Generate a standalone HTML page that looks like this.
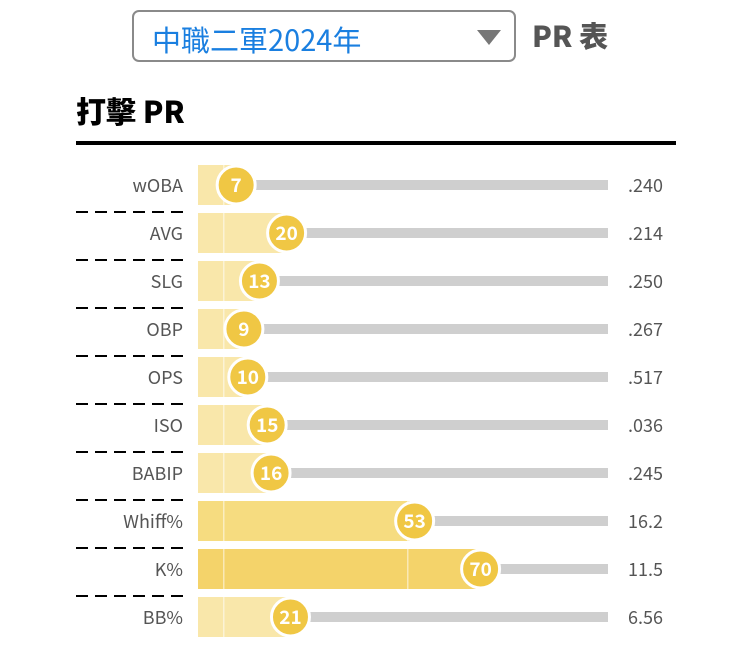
<!DOCTYPE html>
<html><head><meta charset="utf-8">
<style>
body{margin:0;width:750px;height:668px;background:#fff;overflow:hidden;font-family:"Liberation Sans","Noto Sans CJK TC",sans-serif;position:relative}
.sel{position:absolute;left:132px;top:10px;width:380px;height:48px;border:2px solid #8a8a8a;border-radius:7px;box-sizing:content-box}
.sel span{position:absolute;left:18px;top:6px;font-size:29px;color:#1a7fe0;font-family:"Noto Sans CJK TC",sans-serif}
.tri{position:absolute;left:343px;top:18px;width:0;height:0;border-left:12px solid transparent;border-right:12px solid transparent;border-top:15px solid #777}
.pr{position:absolute;left:532px;top:14px;font-size:29px;font-weight:900;color:#555;font-family:"Noto Sans CJK TC",sans-serif}
.title{position:absolute;left:76px;top:88px;font-size:30px;font-weight:900;color:#000;font-family:"Noto Sans CJK TC",sans-serif}
.rule{position:absolute;left:76px;top:141px;width:600px;height:4px;background:#000}
svg text{font-family:"Noto Sans CJK TC","Liberation Sans",sans-serif}
</style></head><body>
<div class="sel"><span>中職二軍2024年</span><div class="tri"></div></div>
<div class="pr">PR 表</div>
<div class="title">打擊 PR</div>
<div class="rule"></div>
<svg id="chart" width="750" height="668" style="position:absolute;left:0;top:0"></svg>
<script>
const categories=["wOBA","AVG","SLG","OBP","OPS","ISO","BABIP","Whiff%","K%","BB%"];
const prValues=[7,20,13,9,10,15,16,53,70,21];
const statLabels=[".240",".214",".250",".267",".517",".036",".245","16.2","11.5","6.56"];
const svg=document.getElementById('chart');
const NS="http://www.w3.org/2000/svg";
const x=v=>209+v*3.88;
const y=i=>185+i*48;
function mk(t,a){const e=document.createElementNS(NS,t);for(const k in a)e.setAttribute(k,a[k]);svg.appendChild(e);return e;}
function col(v){return v>=60?"#f4d36a":v>=40?"#f6dc80":"#f9e7aa";}
categories.forEach((c,i)=>{
  const cy=y(i),v=prValues[i],cx=x(v);
  let e;
  e=mk('rect',{x:x(v),y:cy-5,width:608-x(v),height:10,fill:'#cfcfcf'});
  
  
  e=mk('rect',{x:198,y:cy-20,width:cx-198,height:40,fill:col(v)});
  
  
  [223,407].forEach(lx=>{if(lx<cx){const l=mk('rect',{x:lx,y:cy-20,width:1.5,height:40,fill:'#fff',opacity:0.5});}});
  e=mk('circle',{cx:cx,cy:cy,r:19,fill:'#f0c744',stroke:'#fff','stroke-width':3});
  
  
  e=mk('text',{x:cx,y:cy+7,'text-anchor':'middle','font-size':19,'font-weight':'bold',fill:'#fff'});
  e.textContent=v;
  
  
  e=mk('text',{x:183,y:cy+7,'text-anchor':'end','font-size':18,fill:'#555'});
  e.textContent=c;
  
  
  e=mk('text',{x:663,y:cy+7,'text-anchor':'end','font-size':18,fill:'#555'});
  e.textContent=statLabels[i];
  
  
  if(i<categories.length-1){
    e=mk('line',{x1:76,x2:184,y1:cy+27,y2:cy+27,stroke:'#000','stroke-width':2,'stroke-dasharray':'12,7'});
    
    
  }
});
</script>
</body></html>
